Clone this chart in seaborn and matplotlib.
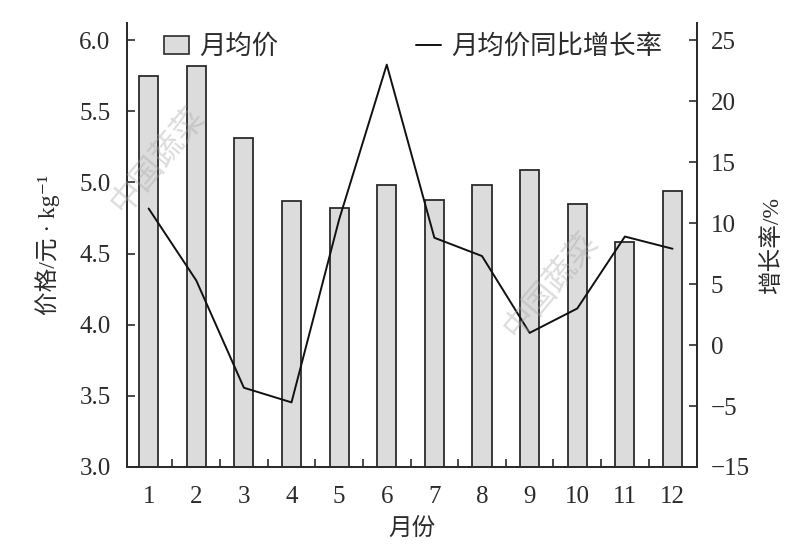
import matplotlib
matplotlib.use("Agg")
import matplotlib.pyplot as plt
from matplotlib.ticker import FixedLocator
from matplotlib.patches import Patch
from matplotlib.lines import Line2D
import seaborn as sns
import pandas as pd

# data
months = [1, 2, 3, 4, 5, 6, 7, 8, 9, 10, 11, 12]
price = [5.75, 5.82, 5.31, 4.87, 4.82, 4.98, 4.88, 4.98, 5.09, 4.85, 4.58, 4.94]
growth = [11.2, 5.3, -3.5, -4.7, 10.3, 23.0, 8.8, 7.3, 1.0, 3.0, 8.9, 7.9]
left_ticks = [3.0, 3.5, 4.0, 4.5, 5.0, 5.5, 6.0]
right_ticks = [-10, -5, 0, 5, 10, 15, 20, 25]
right_labels = ["\u221215", "\u22125", "0", "5", "10", "15", "20", "25"]

sns.set_theme(style="white")
fam = ["Liberation Serif", "Noto Sans CJK SC", "DejaVu Sans"]
plt.rcParams["font.family"] = fam
plt.rcParams["axes.unicode_minus"] = True

dark = "#2b2b2b"
df = pd.DataFrame({"月份": months, "月均价": price, "增长率": growth})

fig = plt.figure(figsize=(8, 5.52), dpi=100)
ax = fig.add_axes([0.159, 0.154, 0.712, 0.804])

sns.barplot(data=df, x="月份", y="月均价", native_scale=True, width=0.4,
            color="#dcdcdc", edgecolor=dark, linewidth=1.3, saturation=1, ax=ax)
ax.set_xlim(0.55, 12.51)
ax.set_ylim(3.0, 6.12)

ax2 = ax.twinx()
sns.lineplot(data=df, x="月份", y="增长率", color="#111111", linewidth=1.4, ax=ax2)
ax2.set_ylim(-10, 26.4)

for a in (ax, ax2):
    for s in a.spines.values():
        s.set_color(dark)
        s.set_linewidth(1.3)
    a.spines["top"].set_visible(False)

ax.set_yticks(left_ticks)
ax.set_yticklabels([f"{v:.1f}" for v in left_ticks])
ax.set_xticks(months)
ax.set_xticklabels([str(m) for m in months])
ax.xaxis.set_minor_locator(FixedLocator([m + 0.5 for m in months[:-1]]))
ax.tick_params(axis="x", which="major", length=0, labelsize=18, pad=14, colors=dark)
ax.tick_params(axis="x", which="minor", bottom=True, direction="in", length=6,
               width=1.2, color=dark)
ax.tick_params(axis="y", left=True, direction="in", length=6, width=1.2,
               labelsize=18, colors=dark, pad=12)

ax2.set_yticks(right_ticks)
ax2.set_yticklabels(right_labels)
ax2.tick_params(axis="y", right=True, direction="in", length=6, width=1.2,
                labelsize=18, colors=dark, pad=10)

ax.set_xlabel("月份", fontsize=17, color=dark, labelpad=7)
ax.set_ylabel("价格/元 · kg\u207b\u00b9", fontsize=17, color=dark, labelpad=14)
ax2.set_ylabel("增长率/%", fontsize=17, color=dark, labelpad=8)

handles = [Patch(facecolor="#dcdcdc", edgecolor=dark, linewidth=1.2),
           Line2D([0], [0], color="#111111", linewidth=1.4)]
ax2.legend(handles, ["月均价", "月均价同比增长率"], loc="upper left",
           bbox_to_anchor=(0.023, 1.028), ncol=2, frameon=False, fontsize=19,
           columnspacing=5.2, handlelength=0.95, handletextpad=0.4,
           labelcolor=dark)

# faint watermark
for xf, yf in [(0.198, 0.71), (0.69, 0.484)]:
    fig.text(xf, yf, "中国蔬菜", fontsize=23, color="#a8a8a8", alpha=0.4,
             rotation=50, ha="center", va="center", family=fam)

fig.savefig("out.png", dpi=100)
